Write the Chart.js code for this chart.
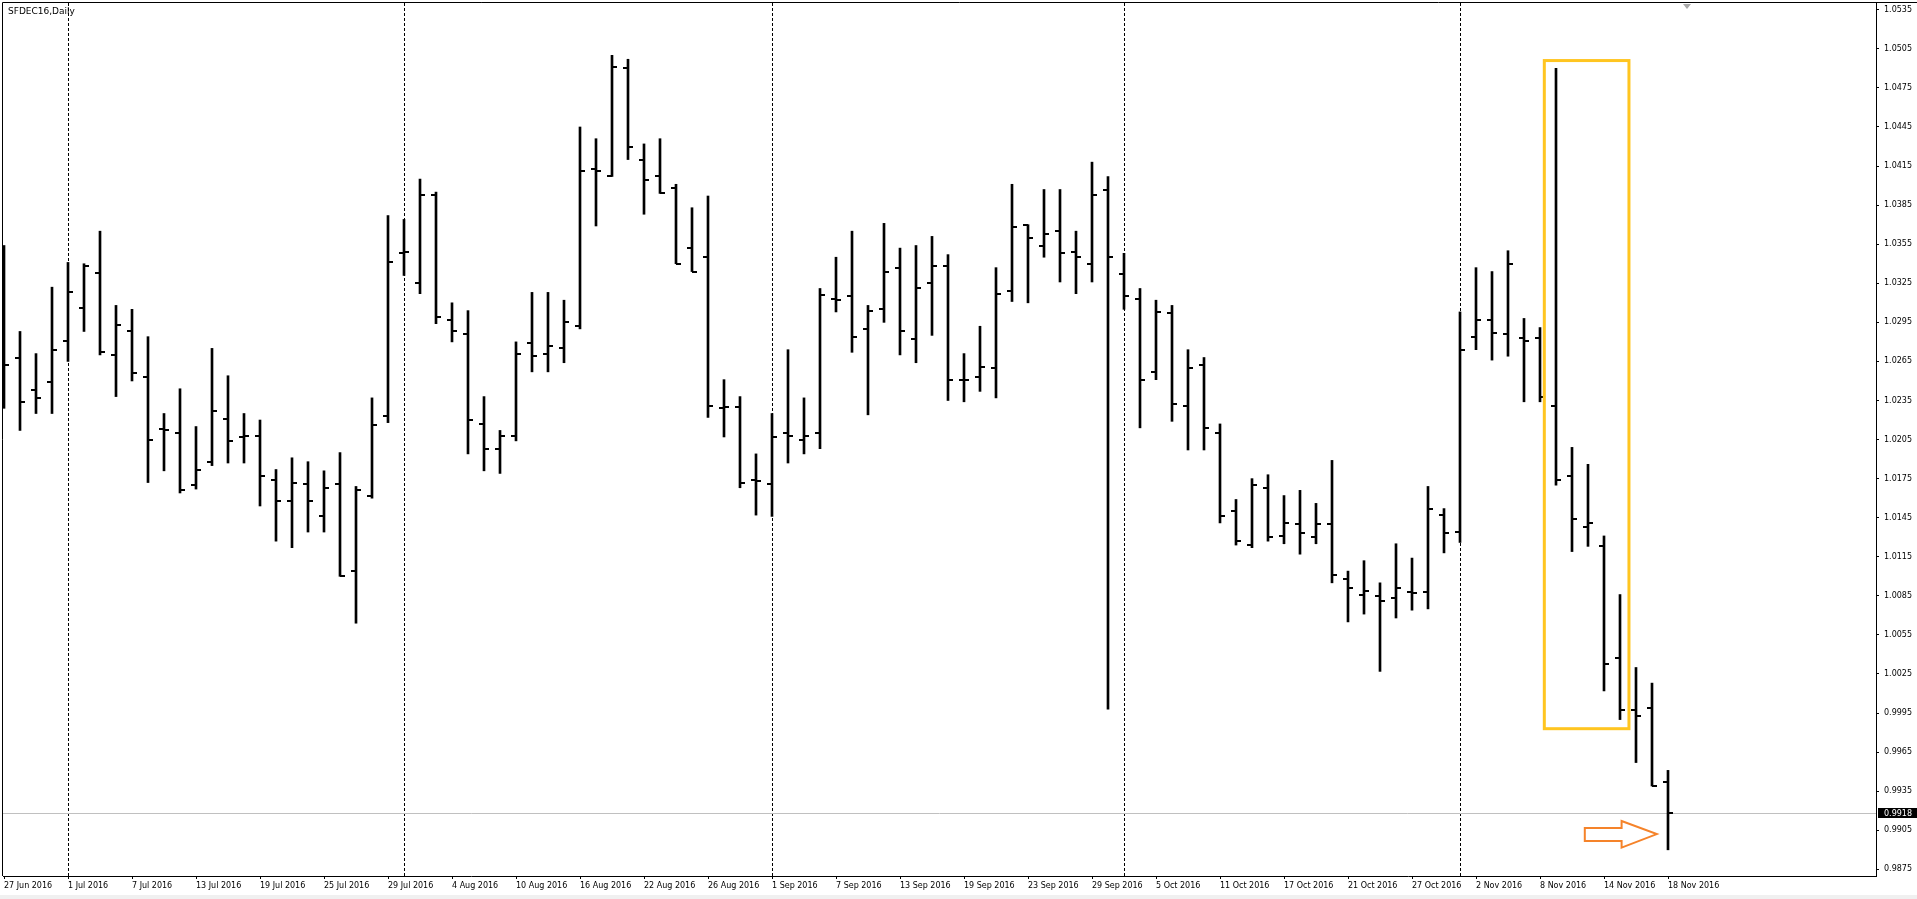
<!DOCTYPE html>
<html>
<head>
<meta charset="utf-8">
<title>SFDEC16,Daily</title>
<script src="https://cdn.jsdelivr.net/npm/chart.js@4.4.0/dist/chart.umd.min.js"></script>
<style>
  html, body { margin: 0; padding: 0; background: #fff; overflow: hidden; }
  #wrap { width: 1917px; height: 899px; }
</style>
</head>
<body>
<div id="wrap"><canvas id="barCanvas" width="1917" height="899"></canvas></div>
<script>
const symbolTitle = 'SFDEC16,Daily';

const dates = [
  '27 Jun 2016','28 Jun 2016','29 Jun 2016','30 Jun 2016',
  '1 Jul 2016','4 Jul 2016','5 Jul 2016','6 Jul 2016','7 Jul 2016','8 Jul 2016','11 Jul 2016','12 Jul 2016',
  '13 Jul 2016','14 Jul 2016','15 Jul 2016','18 Jul 2016','19 Jul 2016','20 Jul 2016','21 Jul 2016','22 Jul 2016',
  '25 Jul 2016','26 Jul 2016','27 Jul 2016','28 Jul 2016','29 Jul 2016',
  '1 Aug 2016','2 Aug 2016','3 Aug 2016','4 Aug 2016','5 Aug 2016','8 Aug 2016','9 Aug 2016','10 Aug 2016',
  '11 Aug 2016','12 Aug 2016','15 Aug 2016','16 Aug 2016','17 Aug 2016','18 Aug 2016','19 Aug 2016','22 Aug 2016',
  '23 Aug 2016','24 Aug 2016','25 Aug 2016','26 Aug 2016','29 Aug 2016','30 Aug 2016','31 Aug 2016',
  '1 Sep 2016','2 Sep 2016','5 Sep 2016','6 Sep 2016','7 Sep 2016','8 Sep 2016','9 Sep 2016','12 Sep 2016',
  '13 Sep 2016','14 Sep 2016','15 Sep 2016','16 Sep 2016','19 Sep 2016','20 Sep 2016','21 Sep 2016','22 Sep 2016',
  '23 Sep 2016','26 Sep 2016','27 Sep 2016','28 Sep 2016','29 Sep 2016','30 Sep 2016',
  '3 Oct 2016','4 Oct 2016','5 Oct 2016','6 Oct 2016','7 Oct 2016','10 Oct 2016','11 Oct 2016','12 Oct 2016',
  '13 Oct 2016','14 Oct 2016','17 Oct 2016','18 Oct 2016','19 Oct 2016','20 Oct 2016','21 Oct 2016','24 Oct 2016',
  '25 Oct 2016','26 Oct 2016','27 Oct 2016','28 Oct 2016','31 Oct 2016',
  '1 Nov 2016','2 Nov 2016','3 Nov 2016','4 Nov 2016','7 Nov 2016','8 Nov 2016','9 Nov 2016','10 Nov 2016',
  '11 Nov 2016','14 Nov 2016','15 Nov 2016','16 Nov 2016','17 Nov 2016','18 Nov 2016'
];

const opens = [
  1.0300, 1.0268, 1.0243, 1.0249, 1.0281, 1.0306, 1.0333, 1.0270, 1.0288, 1.0253,
  1.0213, 1.0210, 1.0170, 1.0188, 1.0221, 1.0207, 1.0208, 1.0174, 1.0158, 1.0171,
  1.0146, 1.0171, 1.0104, 1.0162, 1.0223, 1.0348, 1.0325, 1.0393, 1.0297, 1.0286,
  1.0217, 1.0198, 1.0208, 1.0279, 1.0271, 1.0275, 1.0292, 1.0413, 1.0407, 1.0490,
  1.0420, 1.0407, 1.0398, 1.0352, 1.0345, 1.0229, 1.0230, 1.0174, 1.0171, 1.0210,
  1.0205, 1.0210, 1.0313, 1.0315, 1.0290, 1.0305, 1.0337, 1.0282, 1.0325, 1.0338,
  1.0251, 1.0253, 1.0260, 1.0319, 1.0370, 1.0354, 1.0365, 1.0349, 1.0340, 1.0397,
  1.0332, 1.0313, 1.0257, 1.0302, 1.0231, 1.0262, 1.0210, 1.0150, 1.0124, 1.0168,
  1.0131, 1.0140, 1.0130, 1.0140, 1.0098, 1.0086, 1.0085, 1.0083, 1.0088, 1.0088,
  1.0147, 1.0134, 1.0284, 1.0297, 1.0286, 1.0283, 1.0283, 1.0231, 1.0177, 1.0138,
  1.0123, 1.0037, 0.9997, 0.9999, 0.9942
];
const highs = [
  1.0354, 1.0288, 1.0271, 1.0322, 1.0341, 1.0340, 1.0365, 1.0308, 1.0305, 1.0284,
  1.0225, 1.0244, 1.0215, 1.0275, 1.0254, 1.0225, 1.0220, 1.0182, 1.0191, 1.0188,
  1.0181, 1.0195, 1.0169, 1.0237, 1.0377, 1.0374, 1.0405, 1.0395, 1.0310, 1.0304,
  1.0238, 1.0212, 1.0280, 1.0318, 1.0318, 1.0312, 1.0445, 1.0436, 1.0500, 1.0497,
  1.0432, 1.0436, 1.0401, 1.0383, 1.0392, 1.0251, 1.0238, 1.0194, 1.0225, 1.0274,
  1.0237, 1.0321, 1.0345, 1.0365, 1.0308, 1.0371, 1.0352, 1.0354, 1.0361, 1.0347,
  1.0271, 1.0292, 1.0337, 1.0401, 1.0370, 1.0397, 1.0397, 1.0365, 1.0418, 1.0407,
  1.0348, 1.0321, 1.0312, 1.0308, 1.0274, 1.0268, 1.0217, 1.0159, 1.0175, 1.0178,
  1.0162, 1.0166, 1.0156, 1.0189, 1.0104, 1.0112, 1.0095, 1.0125, 1.0114, 1.0169,
  1.0152, 1.0303, 1.0337, 1.0334, 1.0350, 1.0298, 1.0291, 1.0490, 1.0199, 1.0186,
  1.0131, 1.0086, 1.0030, 1.0018, 0.9951
];
const lows = [
  1.0229, 1.0212, 1.0225, 1.0225, 1.0265, 1.0288, 1.0270, 1.0238, 1.0250, 1.0172,
  1.0181, 1.0164, 1.0167, 1.0185, 1.0187, 1.0187, 1.0154, 1.0127, 1.0122, 1.0134,
  1.0134, 1.0100, 1.0064, 1.0160, 1.0218, 1.0331, 1.0317, 1.0294, 1.0280, 1.0194,
  1.0181, 1.0179, 1.0204, 1.0257, 1.0257, 1.0264, 1.0290, 1.0369, 1.0407, 1.0420,
  1.0378, 1.0394, 1.0340, 1.0334, 1.0222, 1.0207, 1.0168, 1.0147, 1.0146, 1.0187,
  1.0194, 1.0198, 1.0303, 1.0272, 1.0224, 1.0295, 1.0270, 1.0264, 1.0285, 1.0235,
  1.0234, 1.0242, 1.0237, 1.0311, 1.0310, 1.0345, 1.0326, 1.0317, 1.0326, 0.9998,
  1.0305, 1.0214, 1.0251, 1.0219, 1.0197, 1.0197, 1.0141, 1.0124, 1.0122, 1.0127,
  1.0125, 1.0117, 1.0125, 1.0095, 1.0065, 1.0071, 1.0027, 1.0068, 1.0074, 1.0075,
  1.0118, 1.0126, 1.0274, 1.0266, 1.0269, 1.0234, 1.0234, 1.0170, 1.0119, 1.0123,
  1.0012, 0.9990, 0.9957, 0.9939, 0.9890
];
const closes = [
  1.0262, 1.0234, 1.0237, 1.0274, 1.0318, 1.0338, 1.0272, 1.0293, 1.0256, 1.0205,
  1.0212, 1.0166, 1.0182, 1.0227, 1.0204, 1.0208, 1.0177, 1.0158, 1.0172, 1.0158,
  1.0168, 1.0100, 1.0166, 1.0216, 1.0341, 1.0349, 1.0393, 1.0299, 1.0288, 1.0220,
  1.0198, 1.0208, 1.0271, 1.0269, 1.0277, 1.0295, 1.0411, 1.0411, 1.0491, 1.0430,
  1.0404, 1.0394, 1.0340, 1.0334, 1.0231, 1.0230, 1.0172, 1.0173, 1.0207, 1.0208,
  1.0208, 1.0316, 1.0312, 1.0284, 1.0304, 1.0334, 1.0288, 1.0321, 1.0338, 1.0251,
  1.0251, 1.0261, 1.0317, 1.0368, 1.0360, 1.0363, 1.0348, 1.0345, 1.0393, 1.0345,
  1.0315, 1.0251, 1.0303, 1.0232, 1.0260, 1.0214, 1.0146, 1.0127, 1.0170, 1.0130,
  1.0141, 1.0133, 1.0140, 1.0101, 1.0091, 1.0089, 1.0081, 1.0091, 1.0087, 1.0152,
  1.0133, 1.0274, 1.0297, 1.0287, 1.0340, 1.0281, 1.0238, 1.0174, 1.0144, 1.0141,
  1.0033, 0.9997, 0.9993, 0.9939, 0.9918
];

// price scale labels (bottom to top)
const yTickLabels = [
  '0.9875','0.9905','0.9935','0.9965','0.9995','1.0025','1.0055','1.0085','1.0115','1.0145','1.0175','1.0205',
  '1.0235','1.0265','1.0295','1.0325','1.0355','1.0385','1.0415','1.0445','1.0475','1.0505','1.0535'
];
const labelEvery = 4;

// drawn notes, in bar index / price units
const noteBox = { from: 96.27, to: 101.56, top: 1.0496, bottom: 0.9983 };
const noteArrow = { tail: 98.8, neck: 101.1, tip: 103.3, headTop: 0.99121, shaftTop: 0.99067, mid: 0.99021, shaftBottom: 0.98967, headBottom: 0.98917 };
const shiftMarkAt = 105.2;


Chart.defaults.font.family = "'DejaVu Sans', Tahoma, sans-serif";
Chart.defaults.font.size = 8;
Chart.defaults.color = '#000';

// little open / close ticks used as point images
function tickImage(side) {
	const c = document.createElement('canvas');
	c.width = 12;
	c.height = 2;
	const g = c.getContext('2d');
	g.fillStyle = '#000';
	g.fillRect(side == 'left' ? 1 : 6, 0, 5, 2);
	return c;
}

const chartNotes = {
	id: 'chartNotes',
	beforeDraw(chart) {
		const ctx = chart.ctx;
		ctx.save();
		ctx.fillStyle = '#fff';
		ctx.fillRect(0, 0, chart.width, chart.height);
		ctx.fillStyle = '#f0f0f0';
		ctx.fillRect(0, chart.height - 4, chart.width, 4);
		ctx.restore();
	},
	beforeDatasetsDraw(chart) {
		const {ctx, chartArea: a, scales: {x, y}} = chart;
		ctx.save();
		ctx.strokeStyle = '#000';
		ctx.lineWidth = 1;
		ctx.setLineDash([3, 2]);
		for (let i = 1; i < dates.length; i++) {
			if (dates[i].split(' ')[1] != dates[i - 1].split(' ')[1]) {
				const px = Math.round(x.getPixelForValue(i)) + 0.5;
				ctx.beginPath();
				ctx.moveTo(px, a.top);
				ctx.lineTo(px, a.bottom);
				ctx.stroke();
			}
		}
		ctx.setLineDash([]);
		ctx.strokeStyle = '#c0c0c0';
		const py = Math.round(y.getPixelForValue(closes[closes.length - 1])) + 0.5;
		ctx.beginPath();
		ctx.moveTo(a.left, py);
		ctx.lineTo(a.right, py);
		ctx.stroke();
		ctx.restore();
	},
	afterDatasetsDraw(chart) {
		const {ctx, scales: {x, y}} = chart;
		ctx.save();
		// yellow box
		const bx0 = x.getPixelForValue(noteBox.from), bx1 = x.getPixelForValue(noteBox.to);
		const by0 = y.getPixelForValue(noteBox.top), by1 = y.getPixelForValue(noteBox.bottom);
		ctx.strokeStyle = '#ffc520';
		ctx.lineWidth = 3;
		ctx.strokeRect(bx0, by0, bx1 - bx0, by1 - by0);
		// orange arrow
		const A = noteArrow;
		const pts = [
			[A.tail, A.shaftTop], [A.neck, A.shaftTop], [A.neck, A.headTop], [A.tip, A.mid],
			[A.neck, A.headBottom], [A.neck, A.shaftBottom], [A.tail, A.shaftBottom]
		];
		ctx.beginPath();
		pts.forEach((p, i) => {
			const px = x.getPixelForValue(p[0]), py = y.getPixelForValue(p[1]);
			if (i == 0) ctx.moveTo(px, py); else ctx.lineTo(px, py);
		});
		ctx.closePath();
		ctx.fillStyle = '#fff';
		ctx.fill();
		ctx.strokeStyle = '#f5832a';
		ctx.lineWidth = 2;
		ctx.stroke();
		ctx.restore();
	},
	afterDraw(chart) {
		const {ctx, chartArea: a, scales: {x, y}} = chart;
		ctx.save();
		// window frame
		ctx.strokeStyle = '#000';
		ctx.lineWidth = 1;
		ctx.beginPath();
		ctx.moveTo(a.left - 0.5, a.bottom);
		ctx.lineTo(a.left - 0.5, a.top - 0.5);
		ctx.lineTo(chart.width, a.top - 0.5);
		ctx.stroke();

		// shift marker
		const sx = Math.round(x.getPixelForValue(shiftMarkAt));
		ctx.fillStyle = '#a8a8a8';
		ctx.beginPath();
		ctx.moveTo(sx - 4, a.top + 1);
		ctx.lineTo(sx + 4, a.top + 1);
		ctx.lineTo(sx, a.top + 6);
		ctx.closePath();
		ctx.fill();

		// title
		ctx.fillStyle = '#000';
		ctx.font = "9px 'DejaVu Sans', Tahoma, sans-serif";
		ctx.textBaseline = 'middle';
		ctx.textAlign = 'left';
		ctx.fillText(symbolTitle, 8, 12);

		// last price tag
		const last = closes[closes.length - 1];
		const py = Math.round(y.getPixelForValue(last));
		ctx.fillStyle = '#000';
		ctx.fillRect(a.right + 2, py - 5, chart.width - a.right - 2, 10);
		ctx.fillStyle = '#fff';
		ctx.font = "8px 'DejaVu Sans', Tahoma, sans-serif";
		ctx.fillText(last.toFixed(4), a.right + 8, py + 0.5);
		ctx.restore();
	}
};

const barCanvas = document.getElementById('barCanvas');

const barChart = new Chart(barCanvas, {
	type: 'bar',
	data: {
		datasets: [{
			label: 'range',
			data: highs.map((h, i) => ({x: i, y: [lows[i], h]})),
			backgroundColor: '#000',
			borderWidth: 0,
			barThickness: 2,
			borderSkipped: false,
			order: 2
		}, {
			type: 'line',
			label: 'open',
			data: opens.map((v, i) => ({x: i, y: v})),
			showLine: false,
			pointStyle: tickImage('left'),
			order: 1
		}, {
			type: 'line',
			label: 'close',
			data: closes.map((v, i) => ({x: i, y: v})),
			showLine: false,
			pointStyle: tickImage('right'),
			order: 1
		}]
	},
	options: {
		responsive: false,
		devicePixelRatio: 1,
		animation: false,
		events: [],
		layout: { padding: { left: 3, top: 3, right: 0, bottom: 0 }, autoPadding: false },
		plugins: { legend: { display: false }, tooltip: { enabled: false } },
		scales: {
			x: {
				type: 'linear',
				position: 'bottom',
				offset: false,
				min: -0.0625,
				max: 117,
				afterBuildTicks(axis) {
					axis.ticks = dates.map((d, i) => i).filter(i => i % labelEvery == 0).map(i => ({value: i}));
				},
				afterFit(axis) {
					axis.height = 23;
					axis.paddingLeft = 0;
					axis.paddingRight = 0;
				},
				grid: { offset: false, drawOnChartArea: false, drawTicks: true, tickLength: 3, color: '#000' },
				border: { display: true, color: '#000' },
				ticks: {
					align: 'start',
					padding: 2,
					maxRotation: 0,
					minRotation: 0,
					autoSkip: false,
					color: '#000',
					callback: (v) => dates[v]
				}
			},
			y: {
				type: 'linear',
				position: 'right',
				min: 0.98699,
				max: 1.05402,
				afterBuildTicks(axis) {
					axis.ticks = yTickLabels.map(s => ({value: parseFloat(s)}));
				},
				afterFit(axis) {
					axis.width = 41;
					axis.paddingTop = 0;
					axis.paddingBottom = 0;
				},
				grid: { drawOnChartArea: false, drawTicks: true, tickLength: 3, color: '#000' },
				border: { display: true, color: '#000' },
				ticks: {
					padding: 5,
					color: '#000',
					callback: (v, i) => yTickLabels[i]
				}
			}
		}
	},
	plugins: [chartNotes]
});
</script>
</body>
</html>
